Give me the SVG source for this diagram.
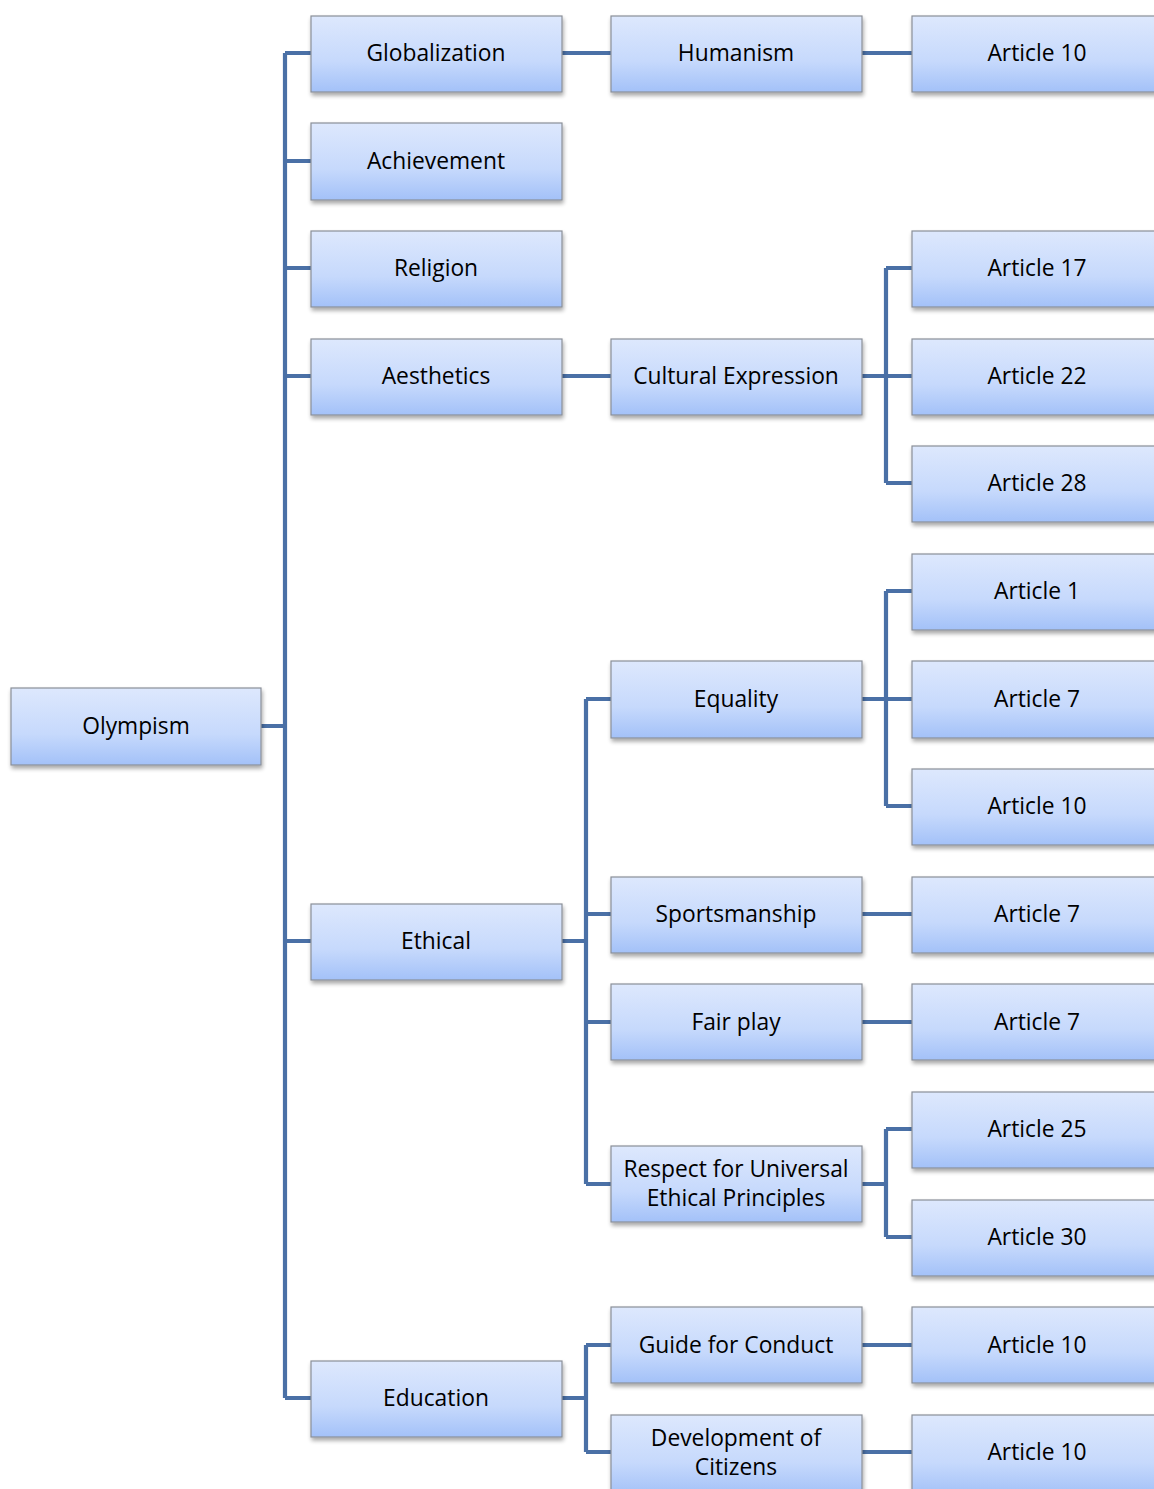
<svg xmlns="http://www.w3.org/2000/svg" width="1154" height="1489" viewBox="0 0 1154 1489">
<defs>
<linearGradient id="g" x1="0" y1="0" x2="0" y2="1">
<stop offset="0" stop-color="#dde8fd"/>
<stop offset="0.6" stop-color="#c6d9fc"/>
<stop offset="1" stop-color="#a3c1f8"/>
</linearGradient>
<filter id="sh" x="-10%" y="-10%" width="125%" height="140%">
<feGaussianBlur in="SourceAlpha" stdDeviation="2"/>
<feOffset dx="1" dy="3"/>
<feComponentTransfer><feFuncA type="linear" slope="0.35"/></feComponentTransfer>
<feMerge><feMergeNode/><feMergeNode in="SourceGraphic"/></feMerge>
</filter>
</defs>
<style>
.b{fill:url(#g);stroke:#8a8f98;stroke-width:1.2;filter:url(#sh)}
.t{font-family:"Open Sans","Noto Sans",sans-serif;font-size:22.8px;fill:#000;text-anchor:middle}
.c{stroke:#4a70a6;stroke-width:4.2;fill:none}
</style>
<g id="connectors">
<path class="c" d="M261 726H285M285 53V1398M285 53H311M285 161H311M285 268H311M285 376H311M285 941H311M285 1398H311"/>
<path class="c" d="M562 53H611M862 53H912"/>
<path class="c" d="M562 376H611M862 376H886M886 268V483M886 268H912M886 376H912M886 483H912"/>
<path class="c" d="M562 941H586M586 699V1184M586 699H611M586 914H611M586 1022H611M586 1184H611"/>
<path class="c" d="M862 699H886M886 591V806M886 591H912M886 699H912M886 806H912"/>
<path class="c" d="M862 914H912M862 1022H912"/>
<path class="c" d="M862 1184H886M886 1129V1237M886 1129H912M886 1237H912"/>
<path class="c" d="M562 1398H586M586 1345V1452M586 1345H611M586 1452H611M862 1345H912M862 1452H912"/>
</g>
<g id="n-olympism"><rect class="b" x="11" y="688" width="250" height="77"/><text class="t" x="136" y="734">Olympism</text></g>
<g id="n-globalization"><rect class="b" x="311" y="16" width="251" height="76"/><text class="t" x="436" y="61">Globalization</text></g>
<g id="n-achievement"><rect class="b" x="311" y="123" width="251" height="77"/><text class="t" x="436" y="169">Achievement</text></g>
<g id="n-religion"><rect class="b" x="311" y="231" width="251" height="76"/><text class="t" x="436" y="276">Religion</text></g>
<g id="n-aesthetics"><rect class="b" x="311" y="339" width="251" height="76"/><text class="t" x="436" y="384">Aesthetics</text></g>
<g id="n-ethical"><rect class="b" x="311" y="904" width="251" height="76"/><text class="t" x="436" y="949">Ethical</text></g>
<g id="n-education"><rect class="b" x="311" y="1361" width="251" height="76"/><text class="t" x="436" y="1406">Education</text></g>
<g id="n-humanism"><rect class="b" x="611" y="16" width="251" height="76"/><text class="t" x="736" y="61">Humanism</text></g>
<g id="n-cultural"><rect class="b" x="611" y="339" width="251" height="76"/><text class="t" x="736" y="384">Cultural Expression</text></g>
<g id="n-equality"><rect class="b" x="611" y="661" width="251" height="77"/><text class="t" x="736" y="707">Equality</text></g>
<g id="n-sportsmanship"><rect class="b" x="611" y="877" width="251" height="76"/><text class="t" x="736" y="922">Sportsmanship</text></g>
<g id="n-fairplay"><rect class="b" x="611" y="984" width="251" height="76"/><text class="t" x="736" y="1030">Fair play</text></g>
<g id="n-respect"><rect class="b" x="611" y="1146" width="251" height="76"/><text class="t" x="736" y="1177">Respect for Universal</text><text class="t" x="736" y="1206">Ethical Principles</text></g>
<g id="n-guide"><rect class="b" x="611" y="1307" width="251" height="76"/><text class="t" x="736" y="1353">Guide for Conduct</text></g>
<g id="n-development"><rect class="b" x="611" y="1415" width="251" height="80"/><text class="t" x="736" y="1446">Development of</text><text class="t" x="736" y="1475">Citizens</text></g>
<g id="n-a10a"><rect class="b" x="912" y="16" width="251" height="76"/><text class="t" x="1037" y="61">Article 10</text></g>
<g id="n-a17"><rect class="b" x="912" y="231" width="251" height="76"/><text class="t" x="1037" y="276">Article 17</text></g>
<g id="n-a22"><rect class="b" x="912" y="339" width="251" height="76"/><text class="t" x="1037" y="384">Article 22</text></g>
<g id="n-a28"><rect class="b" x="912" y="446" width="251" height="76"/><text class="t" x="1037" y="491">Article 28</text></g>
<g id="n-a1"><rect class="b" x="912" y="554" width="251" height="76"/><text class="t" x="1037" y="599">Article 1</text></g>
<g id="n-a7a"><rect class="b" x="912" y="661" width="251" height="77"/><text class="t" x="1037" y="707">Article 7</text></g>
<g id="n-a10b"><rect class="b" x="912" y="769" width="251" height="76"/><text class="t" x="1037" y="814">Article 10</text></g>
<g id="n-a7b"><rect class="b" x="912" y="877" width="251" height="76"/><text class="t" x="1037" y="922">Article 7</text></g>
<g id="n-a7c"><rect class="b" x="912" y="984" width="251" height="76"/><text class="t" x="1037" y="1030">Article 7</text></g>
<g id="n-a25"><rect class="b" x="912" y="1092" width="251" height="76"/><text class="t" x="1037" y="1137">Article 25</text></g>
<g id="n-a30"><rect class="b" x="912" y="1200" width="251" height="76"/><text class="t" x="1037" y="1245">Article 30</text></g>
<g id="n-a10c"><rect class="b" x="912" y="1307" width="251" height="76"/><text class="t" x="1037" y="1353">Article 10</text></g>
<g id="n-a10d"><rect class="b" x="912" y="1415" width="251" height="80"/><text class="t" x="1037" y="1460">Article 10</text></g>
</svg>
